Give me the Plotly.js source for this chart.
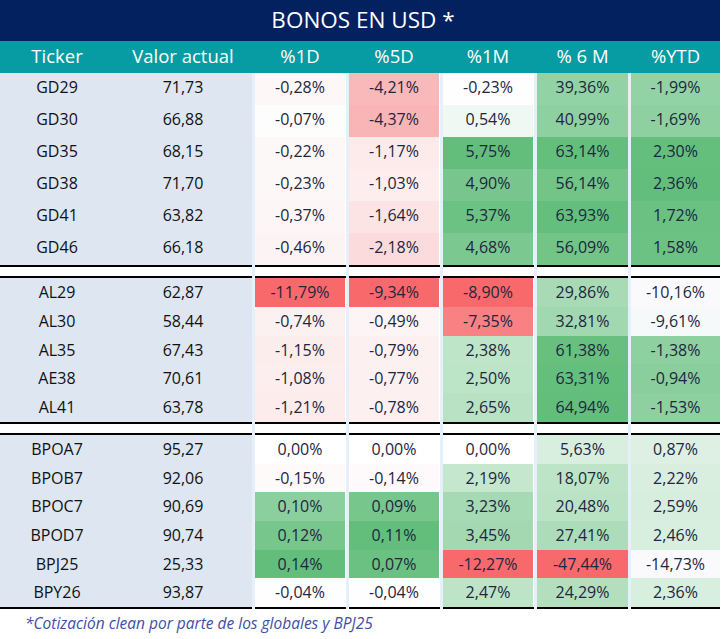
<!DOCTYPE html>
<html>
<head>
<meta charset="utf-8">
<script src="https://cdn.plot.ly/plotly-3.0.1.min.js"></script>
<style>html,body{margin:0;padding:0;background:#fff;}#chart{width:724px;height:639px;}</style>
</head>
<body>
<div id="chart"></div>
<script>
// ---------------- DATA ----------------
const title = 'BONOS EN USD *';
const headers = ['Ticker', 'Valor actual', '%1D', '%5D', '%1M', '% 6 M', '%YTD'];
const groupSizes = [6, 5, 6];
const tickers = ['GD29','GD30','GD35','GD38','GD41','GD46',
                 'AL29','AL30','AL35','AE38','AL41',
                 'BPOA7','BPOB7','BPOC7','BPOD7','BPJ25','BPY26'];
const valorActual = [71.73,66.88,68.15,71.70,63.82,66.18,
                     62.87,58.44,67.43,70.61,63.78,
                     95.27,92.06,90.69,90.74,25.33,93.87];
const pct1D  = [-0.28,-0.07,-0.22,-0.23,-0.37,-0.46, -11.79,-0.74,-1.15,-1.08,-1.21, 0.00,-0.15,0.10,0.12,0.14,-0.04];
const pct5D  = [-4.21,-4.37,-1.17,-1.03,-1.64,-2.18, -9.34,-0.49,-0.79,-0.77,-0.78, 0.00,-0.14,0.09,0.11,0.07,-0.04];
const pct1M  = [-0.23,0.54,5.75,4.90,5.37,4.68, -8.90,-7.35,2.38,2.50,2.65, 0.00,2.19,3.23,3.45,-12.27,2.47];
const pct6M  = [39.36,40.99,63.14,56.14,63.93,56.09, 29.86,32.81,61.38,63.31,64.94, 5.63,18.07,20.48,27.41,-47.44,24.29];
const pctYTD = [-1.99,-1.69,2.30,2.36,1.72,1.58, -10.16,-9.61,-1.38,-0.94,-1.53, 0.87,2.22,2.59,2.46,-14.73,2.36];
const footnote = '*Cotización clean por parte de los globales y BPJ25';

// ---------------- STYLE ----------------
const fillD1  = ['#FDF7F7','#FEFDFD','#FDF8F8','#FDF8F8','#FDF6F6','#FCF4F4','#F8696B','#FCF1F1','#FCEDED','#FCEEEE','#FCECEC','#FFFFFF','#FEFAFA','#8BCF9E','#77C68C','#63BE7B','#FEFEFE'];
const fillD5  = ['#F9B8B9','#F9B5B6','#FDEBEC','#FDEDEE','#FCE3E4','#FBDBDC','#F8696B','#FDF5F5','#FDF0F0','#FDF0F0','#FDF0F0','#FFFFFF','#FEFAFB','#77C68C','#63BE7B','#6AC181','#FEFEFE'];
const fillM1  = ['#FEFEFE','#F0F8F3','#63BE7B','#78C68D','#6CC283','#7CC891','#F8696B','#F98183','#BFE5C9','#BCE4C7','#B9E2C4','#FFFFFF','#C4E7CE','#A6DAB4','#A3D8B1','#F8696B','#BDE4C7'];
const fillM6  = ['#93D2A4','#8FD0A1','#65BF7C','#72C487','#64BF7C','#72C487','#A8DAB5','#A1D8B0','#68C07F','#65BF7C','#63BE7B','#D8EEDF','#BEE4C8','#BAE3C6','#ACDCB9','#F8696B','#B3DFBF'];
const fillYTD = ['#93D2A4','#8FD0A1','#64BE7C','#63BE7B','#6AC182','#6CC283','#FAFAFD','#F5F9F9','#8FD0A1','#8ACE9D','#8FD0A1','#DDF0E3','#D9EEDF','#D7EDDD','#D8EEDE','#FAFAFD','#D8EEDE'];

const W = 724, H = 639;
const FONT = 'Open Sans, Noto Sans, sans-serif';
const NAVY = '#03205F', TEAL = '#079CA3', LEFTBG = '#DDE6F1', STRIP = '#E6F0FA';
const TEXTC = '#1E2640';
const titleBand = [0, 41], headerBand = [41, 73];
const blocks = [[0,252],[255,346],[349,440],[443,534],[537,628],[631,720]];
const groupBands = [[73,265],[278,422],[435,607]];
const lineT = 2;

const fmtNum = v => v.toFixed(2).replace('.', ',');
const fmtPct = v => fmtNum(v) + '%';
const px = v => v / W, py = v => 1 - v / H;

const pctCols = [pct1D, pct5D, pct1M, pct6M, pctYTD];
const pctFills = [fillD1, fillD5, fillM1, fillM6, fillYTD];

const traces = [];
let start = 0;
groupSizes.forEach((n, g) => {
  const sl = a => a.slice(start, start + n);
  const band = groupBands[g];
  const rowH = (band[1] - band[0]) / n;
  const top = g === 0 ? headerBand[0] : band[0];
  blocks.forEach((b, bi) => {
    const isLeft = bi === 0;
    const values = isLeft ? [sl(tickers), sl(valorActual).map(fmtNum)] : [sl(pctCols[bi-1]).map(fmtPct)];
    const fills = isLeft ? [Array(n).fill(LEFTBG), Array(n).fill(LEFTBG)] : [sl(pctFills[bi-1])];
    const cellFont = {family: FONT, size: 16, color: isLeft ? '#111111' : TEXTC};
    let header, cellVals, cellFills;
    if (g === 0) {
      header = {
        values: isLeft ? headers.slice(0, 2) : [headers[bi + 1]],
        height: headerBand[1] - headerBand[0], align: 'center',
        fill: {color: TEAL}, line: {width: 0, color: TEAL},
        font: {family: FONT, size: 18.5, color: '#FFFFFF'}
      };
      cellVals = values; cellFills = fills;
    } else {
      // first row of the group rendered in the header slot (no header row in these blocks)
      header = {
        values: values.map(c => c[0]), height: rowH, align: 'center',
        fill: {color: fills.map(c => c[0])}, line: {width: 0, color: fills.map(c => c[0])},
        font: cellFont
      };
      cellVals = values.map(c => c.slice(1));
      cellFills = fills.map(c => c.slice(1));
    }
    traces.push({
      type: 'table',
      domain: {x: [px(b[0]), px(b[1])], y: [py(band[1] + 1), py(top)]},
      columnwidth: isLeft ? [114, 138] : [1],
      header: header,
      cells: {
        values: cellVals, height: rowH, align: 'center',
        fill: {color: cellFills}, line: {width: 0, color: cellFills},
        font: cellFont
      }
    });
  });
  start += n;
});

const shapes = [];
shapes.push({type:'rect', xref:'paper', yref:'paper', x0:px(0), x1:px(720), y0:py(titleBand[1]), y1:py(titleBand[0]), fillcolor:NAVY, line:{width:0}, layer:'below'});
shapes.push({type:'rect', xref:'paper', yref:'paper', x0:px(0), x1:px(720), y0:py(headerBand[1]), y1:py(headerBand[0]), fillcolor:TEAL, line:{width:0}, layer:'below'});
for (let i = 0; i < blocks.length - 1; i++) {
  shapes.push({type:'rect', xref:'paper', yref:'paper', x0:px(blocks[i][1]), x1:px(blocks[i+1][0]),
    y0:py(groupBands[2][1] + lineT), y1:py(headerBand[1]), fillcolor:STRIP, line:{width:0}, layer:'below'});
}
groupBands.forEach((band, g) => {
  const ys = [[band[1], band[1] + lineT]];
  if (g > 0) ys.push([band[0] - lineT, band[0]]);
  ys.forEach(yy => blocks.forEach(b => {
    shapes.push({type:'rect', xref:'paper', yref:'paper', x0:px(b[0]), x1:px(b[1]), y0:py(yy[1]), y1:py(yy[0]),
      fillcolor:'#000000', line:{width:0}, layer:'above'});
  }));
});

const layout = {
  width: W, height: H,
  margin: {l:0, r:0, t:0, b:0},
  paper_bgcolor: '#FFFFFF',
  showlegend: false,
  title: {text: title, x: px(363), xanchor:'center', y: py(20.5), yanchor:'middle',
          font: {family: FONT, size: 22.5, color: '#FFFFFF'}},
  shapes: shapes,
  annotations: [{
    text: '<i>' + footnote + '</i>', xref:'paper', yref:'paper', x: px(23), y: py(623),
    xanchor:'left', yanchor:'middle', showarrow:false,
    font: {family: FONT, size: 15.5, color: '#3E4FA6'}
  }]
};

Plotly.newPlot('chart', traces, layout, {displayModeBar: false, staticPlot: true});
</script>
</body>
</html>
